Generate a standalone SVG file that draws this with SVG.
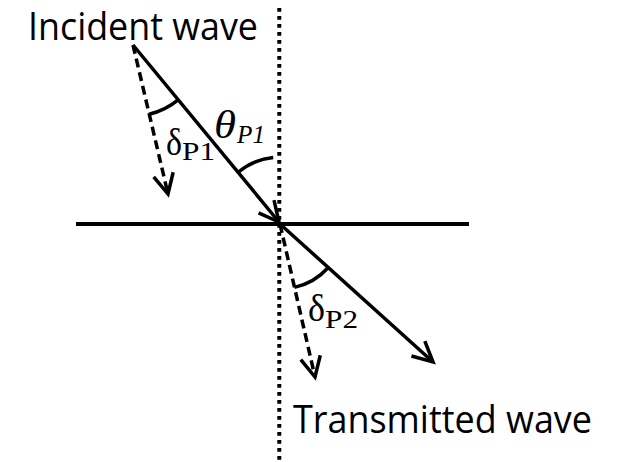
<svg xmlns="http://www.w3.org/2000/svg" width="618" height="462" viewBox="0 0 618 462">
  <style>
    .lbl { font-family: "Open Sans", "Liberation Sans", sans-serif; font-size: 38px; fill: #000; }
    .math { font-family: "Liberation Serif", "DejaVu Serif", serif; fill: #000; }
    .ln { stroke: #000; stroke-width: 3.5; fill: none; }
    .dash { stroke-dasharray: 9 5; }
    .arc { stroke: #000; stroke-width: 3.5; fill: none; }
  </style>
  <defs>
    <marker id="head" markerUnits="userSpaceOnUse" markerWidth="30" markerHeight="30" viewBox="-25 -15 30 30" refX="0" refY="0" orient="auto" overflow="visible">
      <path d="M-20,-10 L0,0 L-20,10" fill="none" stroke="#000" stroke-width="3.5" stroke-linejoin="miter"/>
    </marker>
  </defs>
  <rect width="618" height="462" fill="#fff"/>

  <g id="connectors">
    <line id="interface" x1="76" y1="224" x2="469" y2="224" stroke="#000" stroke-width="4"/>
    <line id="normal" x1="279.3" y1="8" x2="279.3" y2="462" stroke="#000" stroke-width="4" stroke-dasharray="3.8 4.2"/>
    <line id="incident-ray" class="ln" x1="133" y1="45" x2="279" y2="222" marker-end="url(#head)"/>
    <line id="incident-power" class="ln dash" x1="133" y1="45" x2="168" y2="194" marker-end="url(#head)"/>
    <line id="transmitted-ray" class="ln" x1="280" y1="224" x2="433" y2="362" marker-end="url(#head)"/>
    <line id="transmitted-power" class="ln dash" x1="280" y1="224" x2="315" y2="377" marker-end="url(#head)"/>
    <path id="arc-delta-p1" class="arc" d="M149.1,114.2 A71,71 0 0 0 178.4,99.6"/>
    <path id="arc-theta-p1" class="arc" d="M238.5,172 A65,65 0 0 1 273.2,157.4"/>
    <path id="arc-delta-p2" class="arc" d="M294.5,287.4 A65,65 0 0 0 328.3,267.5"/>
  </g>

  <g id="label-incident">
    <text class="lbl" x="28" y="40" textLength="230" lengthAdjust="spacingAndGlyphs">Incident wave</text>
  </g>
  <g id="label-transmitted">
    <text class="lbl" x="293" y="433" textLength="299" lengthAdjust="spacingAndGlyphs">Transmitted wave</text>
  </g>
  <g id="label-theta-p1">
    <text class="math" x="214" y="138" font-size="40" font-style="italic" textLength="22" lengthAdjust="spacingAndGlyphs">θ</text>
    <text class="math" x="237" y="143" font-size="25" font-style="italic" textLength="28" lengthAdjust="spacingAndGlyphs">P1</text>
  </g>
  <g id="label-delta-p1">
    <text class="math" x="166" y="155" font-size="38" textLength="16" lengthAdjust="spacingAndGlyphs">δ</text>
    <text class="math" x="182" y="160" font-size="25" textLength="33" lengthAdjust="spacingAndGlyphs">P1</text>
  </g>
  <g id="label-delta-p2">
    <text class="math" x="308" y="321" font-size="38" textLength="17" lengthAdjust="spacingAndGlyphs">δ</text>
    <text class="math" x="325" y="328" font-size="25" textLength="33" lengthAdjust="spacingAndGlyphs">P2</text>
  </g>
</svg>
